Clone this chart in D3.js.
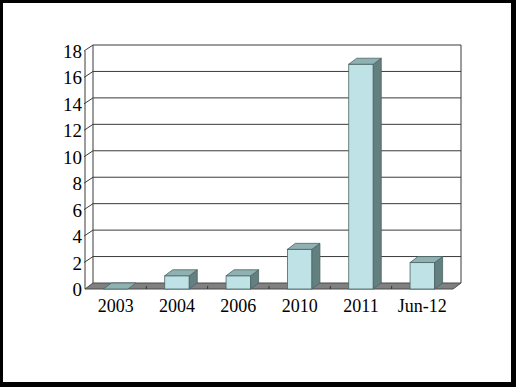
<!DOCTYPE html>
<html>
<head>
<meta charset="utf-8">
<script src="https://cdn.jsdelivr.net/npm/d3@7"></script>
<style>
  body { margin: 0; background: #000; }
  svg { display: block; }
</style>
</head>
<body>
<script>
var categories = ["2003", "2004", "2006", "2010", "2011", "Jun-12"];
var values = [0, 1, 1, 3, 17, 2];
var yTicks = [0, 2, 4, 6, 8, 10, 12, 14, 16, 18];

var W = 516, H = 387;
var dx = 8, dy = -6; // 3d depth offset

var svg = d3.select("body").append("svg")
    .attr("width", W)
    .attr("height", H);

// black frame
svg.append("rect").attr("width", W).attr("height", H).attr("fill", "#000");
svg.append("rect").attr("x", 3).attr("y", 3).attr("width", 508).attr("height", 379).attr("fill", "#fff");

var x = d3.scaleBand().domain(categories).range([85, 453]).paddingInner(0.6).paddingOuter(0.3);
var y = d3.scaleLinear().domain([0, 18]).range([289, 51]);

var x0 = 85, x1 = 453;

// back wall gridlines
var grid = svg.append("g").attr("stroke", "#3a3a3a").attr("stroke-width", 1).attr("fill", "none");
yTicks.forEach(function(t) {
    if (t == 0) return;
    grid.append("line")
        .attr("x1", x0 + dx).attr("x2", x1 + dx)
        .attr("y1", y(t) + dy).attr("y2", y(t) + dy);
    grid.append("line")
        .attr("x1", x0 - 1).attr("x2", x0 + dx)
        .attr("y1", y(t)).attr("y2", y(t) + dy);
});
// back wall edges
grid.append("line").attr("x1", x0 + dx).attr("x2", x0 + dx).attr("y1", y(18) + dy).attr("y2", y(0) + dy);
grid.append("line").attr("x1", x1 + dx).attr("x2", x1 + dx).attr("y1", y(18) + dy).attr("y2", y(0) + dy);
// front axis
grid.append("line").attr("x1", x0).attr("x2", x0).attr("y1", y(18)).attr("y2", y(0));

// floor
svg.append("polygon")
    .attr("points", [[x0, y(0)], [x1, y(0)], [x1 + dx, y(0) + dy], [x0 + dx, y(0) + dy]].join(" "))
    .attr("fill", "#808080")
    .attr("stroke", "#4a4a4a")
    .attr("stroke-width", 1);

// floor tick marks at category boundaries
var step = x.step();
d3.range(1, categories.length).forEach(function(i) {
    var xx = x0 + step * i;
    svg.append("line")
        .attr("x1", xx).attr("x2", xx)
        .attr("y1", y(0)).attr("y2", y(0) - 3)
        .attr("stroke", "#333");
});

// bars
var bars = svg.append("g").selectAll("g")
    .data(categories)
    .enter().append("g");

bars.each(function(c, i) {
    var g = d3.select(this);
    var bx = x(c), bw = x.bandwidth();
    var top = y(values[i]), base = y(0);
    if (values[i] > 0) {
        g.append("rect")
            .attr("x", bx).attr("y", top)
            .attr("width", bw).attr("height", base - top)
            .attr("fill", "#bfe2e6").attr("stroke", "#4d6465").attr("stroke-width", 0.8);
        g.append("polygon")
            .attr("points", [[bx + bw, top], [bx + bw + dx, top + dy], [bx + bw + dx, base + dy], [bx + bw, base]].join(" "))
            .attr("fill", "#647f80").attr("stroke", "#4d6465").attr("stroke-width", 0.8);
    }
    g.append("polygon")
        .attr("points", [[bx, top], [bx + bw, top], [bx + bw + dx, top + dy], [bx + dx, top + dy]].join(" "))
        .attr("fill", "#8fb1b2").attr("stroke", "#4d6465").attr("stroke-width", 0.8);
});

// y tick labels
svg.append("g").selectAll("text")
    .data(yTicks)
    .enter().append("text")
    .attr("x", x0 - 3)
    .attr("y", function(d) { return y(d) + 7; })
    .attr("text-anchor", "end")
    .attr("font-family", "Liberation Serif, serif")
    .attr("font-size", 19)
    .attr("fill", "#000")
    .text(function(d) { return d; });

// category labels
svg.append("g").selectAll("text")
    .data(categories)
    .enter().append("text")
    .attr("x", function(d) { return x(d) + x.bandwidth() / 2; })
    .attr("y", 312)
    .attr("text-anchor", "middle")
    .attr("font-family", "Liberation Serif, serif")
    .attr("font-size", 18)
    .attr("fill", "#000")
    .text(function(d) { return d; });
</script>
</body>
</html>
